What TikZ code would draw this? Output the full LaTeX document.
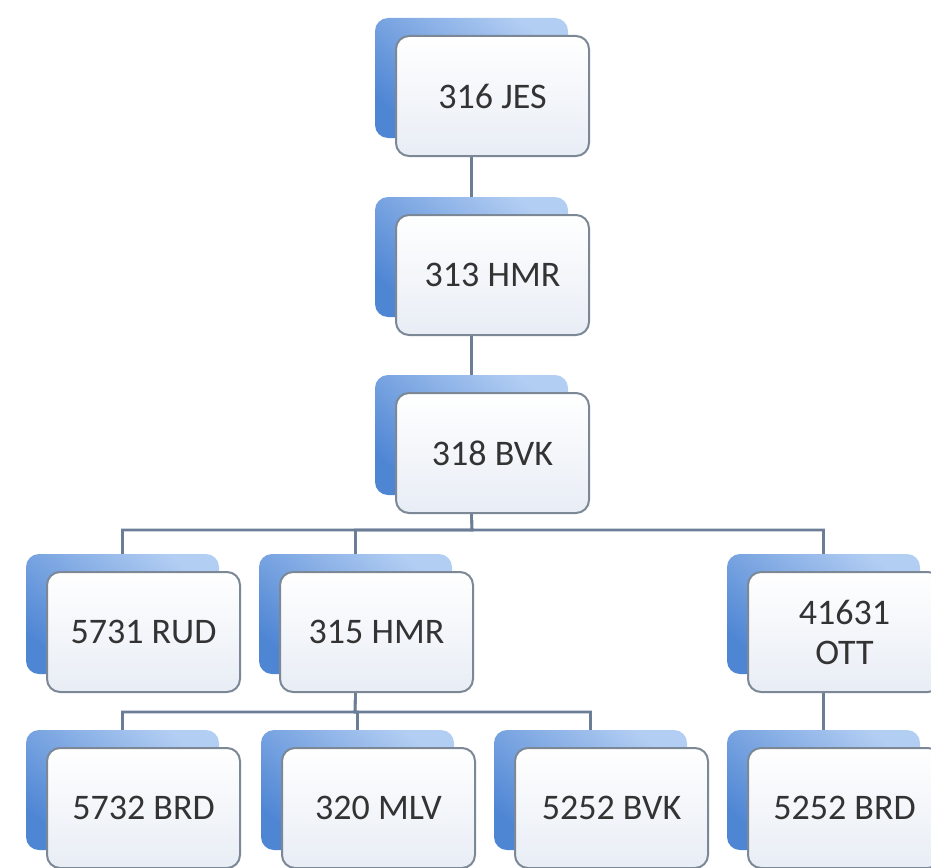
\documentclass[tikz,border=0pt]{standalone}
\usepackage{fontspec}
\setmainfont{Carlito}
\begin{document}
\begin{tikzpicture}[x=1pt,y=-1pt,
  backcard/.style={rectangle, rounded corners=13pt, minimum width=193pt, minimum height=120pt,
    inner sep=0pt, top color=cardlight, bottom color=carddark, shading angle=-40},
  frontcard/.style={rectangle, rounded corners=13pt, minimum width=193pt, minimum height=120pt,
    inner sep=0pt, draw=cardedge, line width=2pt, top color=white, bottom color=cardfill,
    font=\fontsize{36}{40}\selectfont, text=labeltext, align=center},
  link/.style={draw=linkcol, line width=2.6pt}]
\definecolor{cardlight}{HTML}{B3CEF3}
\definecolor{carddark}{HTML}{4F86D4}
\definecolor{cardedge}{HTML}{7C8896}
\definecolor{cardfill}{HTML}{E8EDF5}
\definecolor{labeltext}{HTML}{333333}
\definecolor{linkcol}{HTML}{6C7E97}

\useasboundingbox (0,0) rectangle (931,867);
\clip (0,0) rectangle (931,867);

% card positions (front centers); backs sit up-left of them
\def\dx{21}\def\dy{18}
\foreach \n/\x/\y in {jes/492.5/96, hmrA/492.5/275, bvk/492.5/453,
    rud/143.5/632, hmrB/376.5/632, ott/844.5/632,
    brdA/143.5/808, mlv/378.5/808, bvkB/611.5/808, brdB/844.5/808}{
  \node[backcard] (\n-back) at (\x-\dx,\y-\dy) {};
}

% connectors
\coordinate (busA) at (472,530);
\coordinate (busB) at (355,712);
\draw[link] (jes-back |- 0,157) -- (hmrA-back.north);
\draw[link] (hmrA-back |- 0,336) -- (bvk-back.north);
\foreach \c in {rud, hmrB, ott}
  \draw[link] (bvk-back |- 0,514) -- (busA) -| (\c-back.north);
\foreach \c in {brdA, mlv, bvkB}
  \draw[link] (hmrB-back |- 0,692) -- (busB) -| (\c-back.north);
\draw[link] (ott-back |- 0,692) -- (brdB-back.north);

% front cards with labels
\node[frontcard] (jes) at (492.5,96) {316 JES};
\node[frontcard] (hmrA) at (492.5,275) {313 HMR};
\node[frontcard] (bvk) at (492.5,453) {318 BVK};
\node[frontcard] (rud) at (143.5,632) {5731 RUD};
\node[frontcard] (hmrB) at (376.5,632) {315 HMR};
\node[frontcard] (ott) at (844.5,632) {41631\\OTT};
\node[frontcard] (brdA) at (143.5,808) {5732 BRD};
\node[frontcard] (mlv) at (378.5,808) {320 MLV};
\node[frontcard] (bvkB) at (611.5,808) {5252 BVK};
\node[frontcard] (brdB) at (844.5,808) {5252 BRD};
\end{tikzpicture}
\end{document}
